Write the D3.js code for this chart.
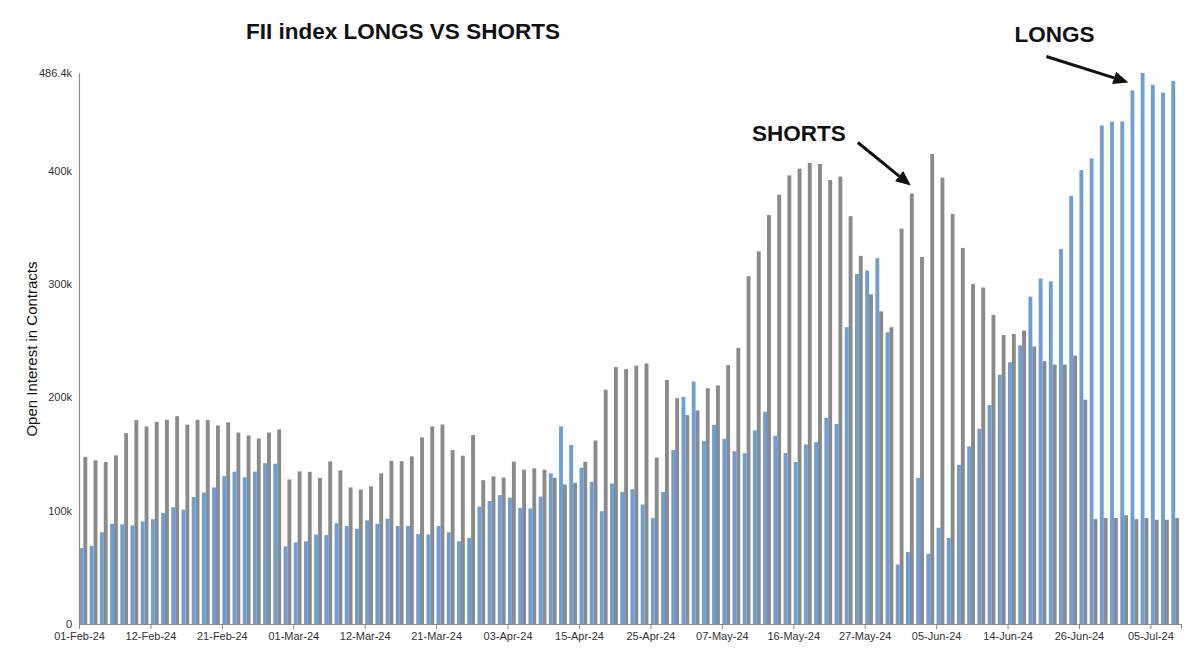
<!DOCTYPE html>
<html><head><meta charset="utf-8">
<script src="https://cdn.jsdelivr.net/npm/d3@7"></script>
<style>
body{margin:0;background:#fff}
svg{display:block}
text{font-family:"Liberation Sans",Arial,Helvetica,sans-serif}
</style>
</head><body>
<svg id="chart" width="1200" height="657"></svg>
<script>
// ---- data (open interest, thousands of contracts) ----
const dates = [
"01-Feb-24","02-Feb-24","05-Feb-24","06-Feb-24","07-Feb-24","08-Feb-24","09-Feb-24","12-Feb-24","13-Feb-24","14-Feb-24",
"15-Feb-24","16-Feb-24","19-Feb-24","20-Feb-24","21-Feb-24","22-Feb-24","23-Feb-24","26-Feb-24","27-Feb-24","28-Feb-24",
"29-Feb-24","01-Mar-24","02-Mar-24","04-Mar-24","05-Mar-24","06-Mar-24","07-Mar-24","11-Mar-24","12-Mar-24","13-Mar-24",
"14-Mar-24","15-Mar-24","18-Mar-24","19-Mar-24","20-Mar-24","21-Mar-24","22-Mar-24","26-Mar-24","27-Mar-24","28-Mar-24",
"01-Apr-24","02-Apr-24","03-Apr-24","04-Apr-24","05-Apr-24","08-Apr-24","09-Apr-24","10-Apr-24","12-Apr-24","15-Apr-24",
"16-Apr-24","18-Apr-24","19-Apr-24","22-Apr-24","23-Apr-24","24-Apr-24","25-Apr-24","26-Apr-24","29-Apr-24","30-Apr-24",
"02-May-24","03-May-24","06-May-24","07-May-24","08-May-24","09-May-24","10-May-24","13-May-24","14-May-24","15-May-24",
"16-May-24","17-May-24","18-May-24","21-May-24","22-May-24","23-May-24","24-May-24","27-May-24","28-May-24","29-May-24",
"30-May-24","31-May-24","03-Jun-24","04-Jun-24","05-Jun-24","06-Jun-24","07-Jun-24","10-Jun-24","11-Jun-24","12-Jun-24",
"13-Jun-24","14-Jun-24","18-Jun-24","19-Jun-24","20-Jun-24","21-Jun-24","24-Jun-24","25-Jun-24","26-Jun-24","27-Jun-24",
"28-Jun-24","01-Jul-24","02-Jul-24","03-Jul-24","04-Jul-24","05-Jul-24","08-Jul-24","09-Jul-24"];

const longs = [
67,69,81,88.5,88,87,90.5,92.5,98,103,101,112,116,120.5,130.5,134.5,129.5,134.5,142,141.5,
68.5,72,73,79,78.5,89,86.5,84,91.5,88.5,93,86.5,86.5,79.5,79,86.5,81,73,76,103.5,
108.5,113.8,111.5,102.5,102,112.5,133,174.5,158,138,125.5,99.5,124,116.5,119,105.5,93.5,116.5,153.5,200.5,
214,161.5,175.8,163.5,152.5,150.8,170.9,187.4,166.2,150.8,143,158.5,160.5,182,176.5,262,309,312,323,257.5,
52.5,63.5,129,62,85,76,140.5,156.7,172.4,193.2,220,231,246,289,305,302.5,331,378,400.6,411,
440,443.5,443.7,471,486.4,476,469,479.3];

const shorts = [
147.6,144.4,143,148.8,168.5,180,174.4,178.5,180.3,183.5,176,180.3,180,175.3,178,169,166.5,163.8,169,171.8,
127.6,134.7,134.4,129,143.5,135.5,120.6,118.7,121.5,133,144,143.7,148,164.7,174.4,176.1,153.5,148.6,166.8,127,
130.3,129.3,143.3,136.2,137.4,136.2,129.1,123.2,124.7,143.2,162,206.8,226.8,225,228,230,147,215.3,199.4,184.4,
188.6,208.1,210.6,228.5,243.8,307,329,361,379,396,402,407,406,392,395,360,325,291,276,262,
349,380,324,415,394,362,332,300,297,273,255,256,259,245,232,229,229,237,198,92.5,
93.5,93.5,96,92.5,93.5,92,92,93.5];

const seriesKeys = ["longs","shorts"];
const yTickValues = [0,100,200,300,400,486.4];
const xTickEvery = 7;

const titleText = "FII index LONGS VS SHORTS";
const yAxisTitle = "Open Interest in Contracts";
const annotations = [
  {text:"SHORTS", series:"shorts", date:"31-May-24"},
  {text:"LONGS",  series:"longs",  date:"03-Jul-24"}
];

// ---- chart ----
const svg = d3.select("#chart");
const colors = {longs:"#6a9fdc", shorts:"#8a8a8a"};
const L = 79, R = 1181, T = 73, B = 624;

const rows = dates.map((d,i)=>({date:d, longs:longs[i], shorts:shorts[i]}));

const x0 = d3.scaleBand().domain(dates).range([L,R]).paddingInner(0.24).paddingOuter(0.12).align(0.2);
const x1 = d3.scaleBand().domain(seriesKeys).range([0, x0.bandwidth()]).padding(0);
const xIdx = d3.scaleLinear().domain([0, dates.length]).range([L,R]);
const y = d3.scaleLinear().domain([0, 486.4]).range([B,T]);

// bars
const g = svg.append("g");
g.selectAll("g.cat").data(rows).join("g")
  .attr("transform", d=>`translate(${x0(d.date)},0)`)
  .selectAll("rect").data(d=>seriesKeys.map(k=>({key:k, value:d[k]}))).join("rect")
  .attr("x", d=>x1(d.key))
  .attr("width", x1.bandwidth())
  .attr("y", d=>y(d.value))
  .attr("height", d=>B - y(d.value))
  .attr("fill", d=>colors[d.key]);

// y axis
const yAxis = svg.append("g").attr("transform",`translate(${L},0)`)
  .call(d3.axisLeft(y).tickValues(yTickValues).tickSize(0).tickPadding(7)
    .tickFormat(d=> d===0 ? "0" : d3.format("~f")(d)+"k"));
yAxis.select(".domain").attr("stroke","#8a8a8a").attr("stroke-width",1.2);
yAxis.selectAll("text").attr("font-size",11).attr("fill","#333").attr("font-family","Liberation Sans, Arial, sans-serif");

// x axis
const xTicks = d3.range(0, dates.length, xTickEvery).concat([dates.length]);
const xAxis = svg.append("g").attr("transform",`translate(0,${B})`)
  .call(d3.axisBottom(xIdx).tickValues(xTicks).tickSize(5).tickSizeOuter(0).tickPadding(3)
    .tickFormat(i=> i < dates.length ? dates[i] : ""));
xAxis.select(".domain").attr("stroke","#8a8a8a").attr("stroke-width",1.2);
xAxis.selectAll(".tick line").attr("stroke","#8a8a8a");
xAxis.selectAll("text").attr("font-size",11).attr("fill","#333").attr("font-family","Liberation Sans, Arial, sans-serif");

// titles
svg.append("text").attr("x",403).attr("y",39).attr("text-anchor","middle")
  .attr("font-size",22.5).attr("font-weight","bold").attr("fill","#111").text(titleText);
svg.append("text").attr("transform","translate(37,349) rotate(-90)").attr("text-anchor","middle")
  .attr("font-size",15).attr("fill","#111").text(yAxisTitle);

// annotations with arrows
const cfg = {
  shorts:{tipDx:-1, tipDy:-8, startDx:-54, startDy:-51, textDx:-113, textDy:-53},
  longs:{tipDx:-4, tipDy:-8, startDx:-86, startDy:-34, textDx:-78, textDy:-48}
};
annotations.forEach(a=>{
  const i = dates.indexOf(a.date);
  const v = a.series==="longs" ? longs[i] : shorts[i];
  const cx = x0(a.date) + x1(a.series) + x1.bandwidth()/2;
  const cy = y(v);
  const c = cfg[a.series];
  const tx = cx + c.tipDx, ty = cy + c.tipDy;
  const sx = cx + c.startDx, sy = cy + c.startDy;
  const ang = Math.atan2(ty-sy, tx-sx);
  const hl = 15, hw = 6.5;
  const bx = tx - hl*Math.cos(ang), by = ty - hl*Math.sin(ang);
  svg.append("line").attr("x1",sx).attr("y1",sy).attr("x2",bx).attr("y2",by)
    .attr("stroke","#111").attr("stroke-width",3);
  const p = [[tx,ty],[bx - hw*Math.sin(ang), by + hw*Math.cos(ang)],[bx + hw*Math.sin(ang), by - hw*Math.cos(ang)]];
  svg.append("polygon").attr("points", p.map(q=>q.join(",")).join(" ")).attr("fill","#111");
  svg.append("text").attr("x", cx + c.textDx).attr("y", cy + c.textDy).attr("text-anchor","middle")
    .attr("font-size",22.5).attr("font-weight","bold").attr("fill","#111").text(a.text);
});
</script>
</body></html>
